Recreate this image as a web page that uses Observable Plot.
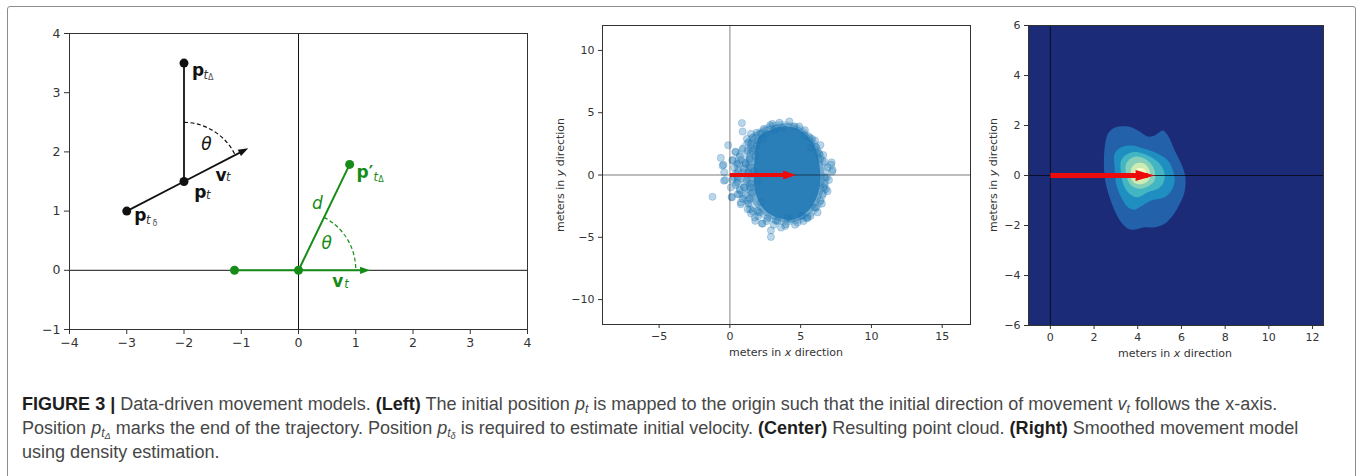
<!DOCTYPE html>
<html><head><meta charset="utf-8">
<script src="https://cdn.jsdelivr.net/npm/d3@7"></script>
<script src="https://cdn.jsdelivr.net/npm/@observablehq/plot@0.6"></script>
<style>
html,body{margin:0;padding:0;background:#fff;}
#fig{position:relative;width:1360px;height:476px;overflow:hidden;background:#fff;}
#border{position:absolute;left:7px;top:6px;width:1349px;height:490px;box-sizing:border-box;border:1.5px solid #8c8c8c;border-radius:3px;}
.panel{position:absolute;top:0;}
.axlabel{position:absolute;font-family:"DejaVu Sans";font-size:11px;color:#333;white-space:nowrap;transform:translate(-50%,-50%);}
.axlabel.rot{transform:translate(-50%,-50%) rotate(-90deg);}
#caption{position:absolute;left:22px;top:392px;font-family:"Liberation Sans",Arial,sans-serif;color:#474747;line-height:24px;white-space:nowrap;font-size:16px;}
#caption b{color:#1e1e1e;}
#caption sub{font-size:0.68em;vertical-align:-0.28em;line-height:0;}
#caption sub sub{font-size:0.75em;vertical-align:-0.2em;}
</style></head>
<body>
<div id="fig">
  <div id="border"></div>
  <div id="left" class="panel" style="left:0px"></div>
  <div id="center" class="panel" style="left:540px"></div>
  <div id="right" class="panel" style="left:980px"></div>
  <div class="axlabel" style="left:786px;top:352px">meters in <i>x</i> direction</div>
  <div class="axlabel rot" style="left:560px;top:175px">meters in <i>y</i> direction</div>
  <div class="axlabel" style="left:1175px;top:353px">meters in <i>x</i> direction</div>
  <div class="axlabel rot" style="left:993px;top:175px">meters in <i>y</i> direction</div>
  <div id="caption">
    <div><span id="cap1"><b>FIGURE 3 |</b> Data-driven movement models. <b>(Left)</b> The initial position <i>p<sub>t</sub></i> is mapped to the origin such that the initial direction of movement <i>v<sub>t</sub></i> follows the x-axis.</span></div>
    <div><span>Position <i>p<sub>t<sub>Δ</sub></sub></i> marks the end of the trajectory. Position <i>p<sub>t<sub>δ</sub></sub></i> is required to estimate initial velocity. <b>(Center)</b> Resulting point cloud. <b>(Right)</b> Smoothed movement model</span></div>
    <div><span>using density estimation.</span></div>
  </div>
</div>
<script>
// ---------------- DATA ----------------
// Left panel: ticks
const leftXTicks = [-4, -3, -2, -1, 0, 1, 2, 3, 4];
const leftYTicks = [-1, 0, 1, 2, 3, 4];
// Left panel: observed trajectory points (p_tδ, p_t, p_tΔ)
const observedPoints = [
  {name: "p_tδ", x: -3, y: 1},
  {name: "p_t", x: -2, y: 1.5},
  {name: "p_tΔ", x: -2, y: 3.5}
];
const observedSegments = [
  {x1: -3, y1: 1, x2: -2, y2: 1.5},
  {x1: -2, y1: 1.5, x2: -2, y2: 3.5}
];
const observedVelocity = [{x1: -2, y1: 1.5, x2: -0.94, y2: 2.03}];
// Left panel: mapped (origin-aligned) points
const mappedPoints = [
  {name: "p_tδ'", x: -1.118, y: 0},
  {name: "origin", x: 0, y: 0},
  {name: "p'_tΔ", x: 0.894, y: 1.789}
];
const mappedSegments = [
  {x1: -1.118, y1: 0, x2: 0, y2: 0},
  {x1: 0, y1: 0, x2: 0.894, y2: 1.789}
];
const mappedVelocity = [{x1: 0, y1: 0, x2: 1.18, y2: 0}];
// Angle arcs (radius 1, angle θ ≈ 63.4°)
const angleArcs = [
  {series: "observed", x1: -2, y1: 2.5, x2: -1.106, y2: 1.947},
  {series: "mapped", x1: 0.447, y1: 0.894, x2: 1, y2: 0}
];
const arcBend = 31.7;
// Labels
const baseLabels = [
  {series: "observed", kind: "vector", text: "p", x: -1.859, y: 3.371},
  {series: "observed", kind: "vector", text: "v", x: -1.451, y: 1.604},
  {series: "observed", kind: "vector", text: "p", x: -1.819, y: 1.317},
  {series: "observed", kind: "vector", text: "p", x: -2.868, y: 0.924},
  {series: "observed", kind: "angle", text: "θ", x: -1.70, y: 2.122},
  {series: "mapped", kind: "vector", text: "p′", x: 1.015, y: 1.654},
  {series: "mapped", kind: "angle", text: "d", x: 0.235, y: 1.126},
  {series: "mapped", kind: "angle", text: "θ", x: 0.40, y: 0.446},
  {series: "mapped", kind: "vector", text: "v", x: 0.590, y: -0.185}
];
const subLabels = [
  {series: "observed", text: "t", x: -1.66, y: 3.295},
  {series: "observed", text: "t", x: -1.265, y: 1.565},
  {series: "observed", text: "t", x: -1.615, y: 1.27},
  {series: "observed", text: "t", x: -2.664, y: 0.839},
  {series: "mapped", text: "t", x: 1.31, y: 1.57},
  {series: "mapped", text: "t", x: 0.80, y: -0.229}
];
const subSubLabels = [
  {series: "observed", text: "Δ", x: -1.58, y: 3.265},
  {series: "observed", text: "δ", x: -2.55, y: 0.80},
  {series: "mapped", text: "Δ", x: 1.395, y: 1.54}
];

// Center panel
const centerXTicks = [-5, 0, 5, 10, 15];
const centerYTicks = [-10, -5, 0, 5, 10];
const centerXDomain = [-9, 17];
const centerYDomain = [-12, 12];
// individual (sparse) points of the cloud
const cloudPoints = [
  [0.85,4.17],[0.90,3.49],[2.85,4.0],[-0.12,2.39],[0.38,1.88],[-0.64,1.37],[-0.52,0.75],[-0.40,0.22],[-0.33,-0.40],[-1.23,-1.75],
  [0.12,-1.75],[1.49,-3.09],[1.79,-3.68],[2.26,-3.90],[2.90,-4.44],[2.90,-4.97],[3.96,-3.95],[5.45,-3.47],[4.08,-3.41],[7.15,0.83],
  [7.22,0.27],[6.01,2.77],[4.55,3.90],[3.73,3.79],[2.19,3.31],[1.2,2.9],[6.39,1.29],[6.67,-0.73],[6.56,-1.53],[5.97,-2.61],
  [1.01,-0.99],[0.54,-1.53],[0.78,-2.2],[1.25,-2.74],[2.08,-3.01],[0.31,-0.19],[0.19,1.21],[0.66,0.89],[1.49,0.62],[1.72,2.10],
  [3.14,3.58],[5.26,3.17],[5.61,3.04],[5.73,2.23],[6.2,1.83],[6.86,-0.19],[6.79,-1.13],[5.02,-3.28],[3.25,-3.68],[3.61,-4.22],
  [0.42,1.82],[-0.45,0.82],[-0.42,-0.46],[0.15,-1.80],[1.49,3.31],[6.68,1.07],[7.19,1.01],[7.26,0.41],[6.62,-0.98],[6.39,-2.08],
  [5.49,-3.42],[4.78,-3.82],[2.30,-3.9],[1.76,-3.42],[1.43,-2.75],[0.77,-2.35],[0.65,-1.55],[0.54,-0.21],[0.31,0.59],[0.78,1.2],
  [1.13,0.87],[1.25,1.95],[1.48,2.49],[1.96,2.76],[2.55,3.30],[3.26,3.70],[6.08,2.23],[6.32,1.69],[6.68,-0.18],[6.08,-2.61],
  [5.14,-3.28],[4.31,-3.55],[3.37,-3.69],[2.66,-3.47],[1.96,-2.88],[1.25,-2.08],[1.01,-1.0],[0.07,-1.0],[1.49,-1.0],[1.49,0.08],
  [0.90,0.21],[0.19,1.15],[1.8,1.5],[2.0,-0.5],[1.7,0.3],[2.2,-2.2],[1.9,2.4],[2.3,2.9],[1.6,-1.4],[1.2,-0.4],
  [1.0,0.5],[1.4,1.3],[1.1,-1.6],[0.6,0.3],[0.4,-0.8],
  [1.9,3.4],[2.4,3.7],[3.0,4.1],[3.5,4.2],[4.2,4.3],[4.9,3.9],[5.3,3.6],[5.8,2.9],[6.4,2.4],[6.6,1.6],
  [6.9,0.6],[7.0,-0.4],[6.9,-1.3],[6.5,-2.3],[6.2,-3.0],[5.7,-3.3],[5.2,-3.7],[4.6,-4.0],[3.9,-4.1],[3.1,-4.0],
  [2.6,-3.7],[2.0,-3.3],[1.6,-2.9],[1.3,-2.3],[0.9,-1.9],[0.7,-1.2],[0.5,-0.6],[0.4,0.1],[0.5,0.9],[0.7,1.5],
  [0.9,2.1],[1.3,2.6],[1.6,3.0],[0.2,-0.4],[1.3,0.2],[1.5,-0.7],[1.1,1.0],[0.8,-0.3],[1.6,1.9],[1.4,-1.9]
];
// outlines of the semi-dense haze, the denser ring and the saturated core of the cloud
const cloudFringe = [
  [1.0,2.7],[1.9,3.6],[2.9,4.2],[4.0,4.3],[5.0,4.0],[5.9,3.1],[6.5,2.0],[6.9,0.8],[7.0,-0.5],[6.8,-1.7],
  [6.3,-2.8],[5.4,-3.7],[4.3,-4.0],[3.2,-3.9],[2.2,-3.4],[1.3,-2.6],[0.6,-1.6],[0.3,-0.5],[0.3,0.8],[0.5,1.8]
];
const cloudRing = [
  [1.4,2.9],[2.2,3.7],[3.1,4.05],[4.1,4.15],[4.9,3.85],[5.7,3.1],[6.3,2.0],[6.6,0.7],[6.7,-0.5],[6.5,-1.7],
  [6.0,-2.7],[5.3,-3.45],[4.3,-3.8],[3.4,-3.7],[2.5,-3.3],[1.8,-2.5],[1.3,-1.6],[1.1,-0.5],[1.1,0.7],[1.2,1.9]
];
const cloudCore = [
  [2.0,3.0],[2.6,3.5],[3.3,3.8],[4.1,3.9],[4.8,3.7],[5.4,3.2],[5.9,2.5],[6.2,1.6],[6.35,0.6],[6.4,-0.5],
  [6.2,-1.6],[5.8,-2.5],[5.2,-3.2],[4.4,-3.6],[3.6,-3.5],[2.9,-3.2],[2.3,-2.6],[1.9,-1.7],[1.7,-0.6],[1.7,0.6],[1.8,1.8]
];
const centerMeanArrow = [{x1: 0, y1: 0, x2: 4.32, y2: 0}];

// Right panel
const rightXTicks = [0, 2, 4, 6, 8, 10, 12];
const rightYTicks = [-6, -4, -2, 0, 2, 4, 6];
const rightXDomain = [-1, 12.5];
const rightYDomain = [-6, 6];
const densityBackground = "#1b2b78";
const densityLevels = ["level1", "level2", "level3", "level4", "level5", "level6"];
const densityColors = ["#2361aa", "#1f8fc1", "#43b6c4", "#86d0ba", "#cdecb3", "#f6fbc8"];
const densityContours = [
  [[2.63,1.67],[2.94,1.91],[3.55,1.96],[4.01,1.80],[4.46,1.56],[4.77,1.60],[5.15,1.80],[5.38,1.60],[5.69,1.00],[5.99,0.47],[6.18,-0.07],[6.12,-0.73],[5.84,-1.27],[5.54,-1.67],[5.23,-1.93],[4.77,-2.07],[4.31,-2.07],[3.85,-2.17],[3.55,-2.13],[3.24,-1.87],[2.94,-1.40],[2.71,-0.87],[2.51,-0.20],[2.45,0.60],[2.51,1.27]],
  [[2.94,0.87],[3.24,1.13],[3.70,1.20],[4.31,1.07],[4.92,0.87],[5.38,0.60],[5.61,0.20],[5.69,-0.20],[5.54,-0.60],[5.23,-0.87],[4.62,-1.00],[4.08,-1.27],[3.85,-1.37],[3.55,-1.27],[3.24,-0.87],[3.01,-0.33],[2.94,0.33]],
  [[3.24,0.60],[3.55,0.87],[4.01,0.93],[4.62,0.73],[5.00,0.47],[5.23,0.07],[5.15,-0.33],[4.92,-0.53],[4.46,-0.67],[4.01,-0.87],[3.62,-0.73],[3.36,-0.40],[3.24,0.07]],
  [[3.47,0.47],[3.78,0.73],[4.16,0.73],[4.54,0.53],[4.77,0.20],[4.77,-0.20],[4.54,-0.40],[4.08,-0.53],[3.70,-0.40],[3.50,-0.07]],
  [[3.70,0.27],[3.93,0.49],[4.31,0.47],[4.54,0.20],[4.54,-0.13],[4.31,-0.31],[3.93,-0.33],[3.70,-0.13]],
  [[3.82,0.13],[4.01,0.29],[4.28,0.27],[4.39,0.07],[4.31,-0.13],[4.01,-0.20],[3.82,-0.07]]
];
const rightMeanArrow = [{x1: 0, y1: 0, x2: 4.45, y2: 0}];

// ---------------- HELPERS ----------------
const fmt = d => (d < 0 ? "\u2212" + Math.abs(d) : String(d));
const BLACK = "#111";
const GREEN = "#178b17";
const RED = "#ec0a0a";
const BLUE = "#1f77b4";

function solidHeads(svg, back, front, half) {
  svg.querySelectorAll("marker").forEach(m => {
    const c = m.getAttribute("stroke") || "currentColor";
    m.setAttribute("viewBox", "-30 -15 60 30");
    m.setAttribute("markerWidth", 60);
    m.setAttribute("markerHeight", 30);
    m.setAttribute("markerUnits", "userSpaceOnUse");
    m.setAttribute("fill", c);
    m.setAttribute("stroke", "none");
    while (m.firstChild) m.removeChild(m.firstChild);
    const p = document.createElementNS("http://www.w3.org/2000/svg", "path");
    p.setAttribute("d", `M${-back},${-half}L${front},0L${-back},${half}Z`);
    m.appendChild(p);
  });
}

const axisStyle = {tickSize: 5, tickPadding: 4, tickFormat: fmt, label: null};

// ---------------- LEFT PANEL ----------------
const left = Plot.plot({
  width: 540, height: 360,
  marginLeft: 69, marginRight: 13, marginTop: 33, marginBottom: 31,
  x: {domain: [-4, 4]}, y: {domain: [-1, 4]},
  style: {fontFamily: "DejaVu Sans", fontSize: "12.5px", color: "#333", background: "transparent", overflow: "visible"},
  marks: [
    Plot.ruleX([0], {stroke: BLACK, strokeWidth: 1}),
    Plot.ruleY([0], {stroke: BLACK, strokeWidth: 1}),
    Plot.arrow(angleArcs, {filter: d => d.series === "observed", x1: "x1", y1: "y1", x2: "x2", y2: "y2", bend: arcBend, headLength: 0, stroke: BLACK, strokeWidth: 1.2, strokeDasharray: "4,2.5", strokeLinecap: "butt"}),
    Plot.arrow(angleArcs, {filter: d => d.series === "mapped", x1: "x1", y1: "y1", x2: "x2", y2: "y2", bend: arcBend, headLength: 0, stroke: GREEN, strokeWidth: 1.2, strokeDasharray: "4,2.5", strokeLinecap: "butt"}),
    Plot.link(observedSegments, {x1: "x1", y1: "y1", x2: "x2", y2: "y2", stroke: BLACK, strokeWidth: 1.8}),
    Plot.link(observedVelocity, {x1: "x1", y1: "y1", x2: "x2", y2: "y2", stroke: BLACK, strokeWidth: 1.8, markerEnd: "arrow"}),
    Plot.link(mappedSegments, {x1: "x1", y1: "y1", x2: "x2", y2: "y2", stroke: GREEN, strokeWidth: 2}),
    Plot.link(mappedVelocity, {x1: "x1", y1: "y1", x2: "x2", y2: "y2", stroke: GREEN, strokeWidth: 2, markerEnd: "arrow"}),
    Plot.dot(observedPoints, {x: "x", y: "y", r: 4.5, fill: BLACK}),
    Plot.dot(mappedPoints, {x: "x", y: "y", r: 4.5, fill: GREEN}),
    Plot.text(baseLabels, {filter: d => d.kind === "vector" && d.series === "observed", x: "x", y: "y", text: "text", textAnchor: "start", fontSize: 17, fontWeight: "bold", fill: BLACK}),
    Plot.text(baseLabels, {filter: d => d.kind === "vector" && d.series === "mapped", x: "x", y: "y", text: "text", textAnchor: "start", fontSize: 17, fontWeight: "bold", fill: GREEN}),
    Plot.text(baseLabels, {filter: d => d.kind === "angle" && d.series === "observed", x: "x", y: "y", text: "text", textAnchor: "start", fontSize: 17, fontStyle: "italic", fill: BLACK}),
    Plot.text(baseLabels, {filter: d => d.kind === "angle" && d.series === "mapped", x: "x", y: "y", text: "text", textAnchor: "start", fontSize: 17, fontStyle: "italic", fill: GREEN}),
    Plot.text(subLabels, {filter: d => d.series === "observed", x: "x", y: "y", text: "text", textAnchor: "start", fontSize: 11.5, fontStyle: "italic", fill: "#333"}),
    Plot.text(subLabels, {filter: d => d.series === "mapped", x: "x", y: "y", text: "text", textAnchor: "start", fontSize: 11.5, fontStyle: "italic", fill: GREEN}),
    Plot.text(subSubLabels, {filter: d => d.series === "observed", x: "x", y: "y", text: "text", textAnchor: "start", fontSize: 8, fill: "#555"}),
    Plot.text(subSubLabels, {filter: d => d.series === "mapped", x: "x", y: "y", text: "text", textAnchor: "start", fontSize: 8, fill: GREEN}),
    Plot.frame({stroke: "#333", strokeWidth: 1}),
    Plot.axisX({ticks: leftXTicks, ...axisStyle}),
    Plot.axisY({ticks: leftYTicks, ...axisStyle})
  ]
});
solidHeads(left, 6, 4, 3.6);
document.getElementById("left").appendChild(left);

// ---------------- CENTER PANEL ----------------
const center = Plot.plot({
  width: 440, height: 360,
  marginLeft: 62, marginRight: 10, marginTop: 25, marginBottom: 36,
  x: {domain: centerXDomain}, y: {domain: centerYDomain},
  style: {fontFamily: "DejaVu Sans", fontSize: "11px", color: "#333", background: "transparent", overflow: "visible"},
  marks: [
    Plot.line(cloudFringe, {x: d => d[0], y: d => d[1], curve: "catmull-rom-closed", fill: BLUE, fillOpacity: 0.3, stroke: "none"}),
    Plot.line(cloudRing, {x: d => d[0], y: d => d[1], curve: "catmull-rom-closed", fill: BLUE, fillOpacity: 0.45, stroke: "none"}),
    Plot.line(cloudCore, {x: d => d[0], y: d => d[1], curve: "catmull-rom-closed", fill: BLUE, fillOpacity: 0.85, stroke: "none"}),
    Plot.dot(cloudPoints, {x: d => d[0], y: d => d[1], r: 3.6, fill: BLUE, fillOpacity: 0.3, stroke: BLUE, strokeOpacity: 0.3, strokeWidth: 0.8}),
    Plot.ruleX([0], {stroke: "#000", strokeOpacity: 0.35, strokeWidth: 1.4}),
    Plot.ruleY([0], {stroke: "#000", strokeOpacity: 0.35, strokeWidth: 1.4}),
    Plot.link(centerMeanArrow, {x1: "x1", y1: "y1", x2: "x2", y2: "y2", stroke: RED, strokeWidth: 4, markerEnd: "arrow"}),
    Plot.frame({stroke: "#333", strokeWidth: 1}),
    Plot.axisX({ticks: centerXTicks, ...axisStyle, tickSize: 4}),
    Plot.axisY({ticks: centerYTicks, ...axisStyle, tickSize: 4})
  ]
});
solidHeads(center, 8, 5, 4.6);
document.getElementById("center").appendChild(center);

// ---------------- RIGHT PANEL ----------------
const right = Plot.plot({
  width: 370, height: 360,
  marginLeft: 48, marginRight: 27, marginTop: 25, marginBottom: 35,
  x: {domain: rightXDomain}, y: {domain: rightYDomain},
  style: {fontFamily: "DejaVu Sans", fontSize: "11px", color: "#333", background: "transparent", overflow: "visible"},
  marks: [
    Plot.frame({fill: densityBackground, stroke: null}),
    ...densityContours.map((poly, i) =>
      Plot.line(poly, {x: d => d[0], y: d => d[1], curve: "catmull-rom-closed", fill: densityColors[i], stroke: "none", title: () => densityLevels[i]})
    ),
    Plot.ruleX([0], {stroke: "#000", strokeOpacity: 0.7, strokeWidth: 1}),
    Plot.ruleY([0], {stroke: "#000", strokeOpacity: 0.7, strokeWidth: 1}),
    Plot.link(rightMeanArrow, {x1: "x1", y1: "y1", x2: "x2", y2: "y2", stroke: RED, strokeWidth: 5, markerEnd: "arrow"}),
    Plot.frame({stroke: "#333", strokeWidth: 1}),
    Plot.axisX({ticks: rightXTicks, ...axisStyle, tickSize: 4}),
    Plot.axisY({ticks: rightYTicks, ...axisStyle, tickSize: 4})
  ]
});
solidHeads(right, 12, 7, 5.6);
document.getElementById("right").appendChild(right);

// ---------------- CAPTION FIT ----------------
const cap = document.getElementById("caption");
const l1 = document.getElementById("cap1");
const w = l1.getBoundingClientRect().width;
cap.style.fontSize = (16 * 1256 / w) + "px";
</script>
</body></html>
